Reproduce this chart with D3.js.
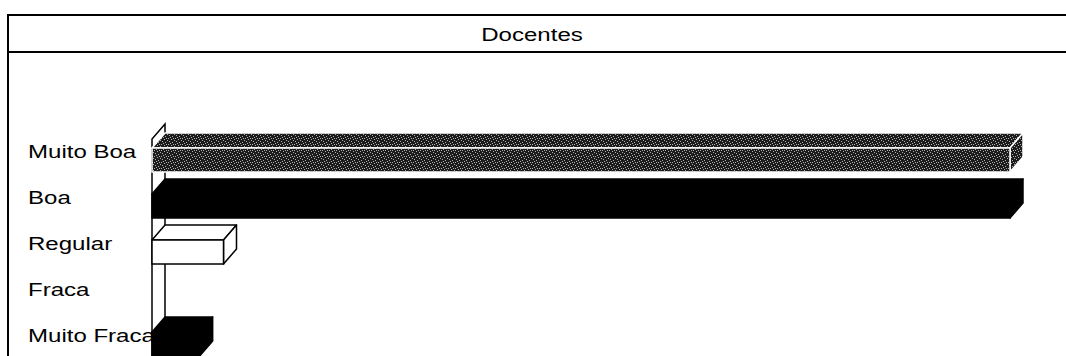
<!DOCTYPE html>
<html>
<head>
<meta charset="utf-8">
<script src="https://cdn.jsdelivr.net/npm/d3@7"></script>
<style>
  html, body { margin: 0; padding: 0; background: #fff; overflow: hidden; }
  text { font-family: "Liberation Sans", Arial, sans-serif; fill: #000; }
</style>
</head>
<body>
<div id="chart"></div>
<script>
// 3D horizontal bar chart (scanned Excel look)
const title = "Docentes"
const categories = ["Muito Boa", "Boa", "Regular", "Fraca", "Muito Fraca"]
const values = [36, 36, 3, 0, 2]

const FILLS = {
  "Muito Boa": "url(#stipple)",
  "Boa": "#000",
  "Regular": "#fff",
  "Fraca": "#fff",
  "Muito Fraca": "#000"
}
const STROKES = {
  "Muito Boa": "#fff",
  "Boa": "#000",
  "Regular": "#000",
  "Fraca": "#000",
  "Muito Fraca": "#000"
}

const width = 1066
const height = 356
const DX = 13, DY = 15        // 3D depth offset
const STRETCH = 1.3           // scan is stretched horizontally

const svg = d3.select("#chart").append("svg")
  .attr("width", width).attr("height", height)

// stipple pattern for "Muito Boa"
const defs = svg.append("defs")
const pat = defs.append("pattern")
  .attr("id", "stipple").attr("patternUnits", "userSpaceOnUse")
  .attr("width", 7).attr("height", 6)
pat.append("rect").attr("width", 7).attr("height", 6).attr("fill", "#1c1c1c")
;[[0, 0], [3, 1], [6, 2], [1, 3], [4, 4], [2, 5], [5, 0]].forEach(([px, py]) => {
  pat.append("rect").attr("x", px).attr("y", py).attr("width", 1).attr("height", 1).attr("fill", "#b0b0b0")
})

// frame and title band
svg.append("line").attr("x1", 8).attr("x2", width).attr("y1", 15).attr("y2", 15)
  .attr("stroke", "#000").attr("stroke-width", 2)
svg.append("line").attr("x1", 8).attr("x2", width).attr("y1", 52).attr("y2", 52)
  .attr("stroke", "#000").attr("stroke-width", 2)
svg.append("line").attr("x1", 8).attr("x2", 8).attr("y1", 14).attr("y2", height)
  .attr("stroke", "#000").attr("stroke-width", 2)

svg.append("text")
  .attr("transform", `translate(532,41) scale(${STRETCH},1)`)
  .attr("text-anchor", "middle")
  .attr("font-size", "18.5px")
  .text(title)

// scales
const x = d3.scaleLinear().domain([0, 36]).range([152, 1010])
const y = d3.scaleBand().domain(categories)
  .range([148, 148 + 4 * 46 + 24])
  .paddingInner(22 / 46).paddingOuter(0).align(0)
const bh = y.bandwidth()

// left wall (floor of the 3D chart)
const wallTop = y(categories[0]) - 9
svg.append("path")
  .attr("d", `M${x(0)},${height + 2} L${x(0)},${wallTop} L${x(0) + DX},${wallTop - DY} L${x(0) + DX},${height + 2} Z`)
  .attr("fill", "#fff").attr("stroke", "#000").attr("stroke-width", 1.5)

// bars
const data = categories.map((c, i) => ({ cat: c, value: values[i] })).filter(d => d.value > 0)

const bars = svg.selectAll("g.bar").data(data).enter().append("g").attr("class", "bar")

// top face
bars.append("path")
  .attr("d", d => {
    const x0 = x(0), x1 = x(d.value), y0 = y(d.cat)
    return `M${x0},${y0} L${x0 + DX},${y0 - DY} L${x1 + DX},${y0 - DY} L${x1},${y0} Z`
  })
  .attr("fill", d => FILLS[d.cat]).attr("stroke", d => STROKES[d.cat]).attr("stroke-width", 1.5)
  .attr("stroke-linejoin", "round")

// side face
bars.append("path")
  .attr("d", d => {
    const x1 = x(d.value), y0 = y(d.cat)
    return `M${x1},${y0} L${x1 + DX},${y0 - DY} L${x1 + DX},${y0 + bh - DY} L${x1},${y0 + bh} Z`
  })
  .attr("fill", d => FILLS[d.cat]).attr("stroke", d => STROKES[d.cat]).attr("stroke-width", 1.5)
  .attr("stroke-linejoin", "round")

// front face
bars.append("rect")
  .attr("x", x(0))
  .attr("y", d => y(d.cat))
  .attr("width", d => x(d.value) - x(0))
  .attr("height", bh)
  .attr("fill", d => FILLS[d.cat]).attr("stroke", d => STROKES[d.cat]).attr("stroke-width", 1.5)

// category labels
categories.forEach(c => {
  svg.append("text")
    .attr("transform", `translate(28,${y(c) + 10}) scale(${STRETCH},1)`)
    .attr("font-size", "18.5px")
    .text(c)
})
</script>
</body>
</html>
